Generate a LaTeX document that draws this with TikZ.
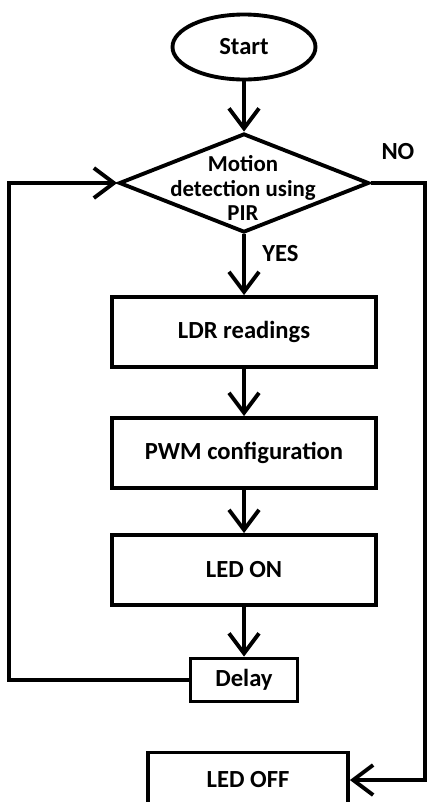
\documentclass[tikz,border=0pt]{standalone}
\usepackage{fontspec}
\setmainfont{Carlito}
\usetikzlibrary{shapes.geometric, arrows.meta}

\begin{document}
\begin{tikzpicture}[x=0.02cm, y=-0.02cm, line width=2.2pt,
    every node/.style={font=\bfseries\fontsize{14}{16}\selectfont},
    process/.style={draw, rectangle, minimum width=5.28cm, minimum height=1.4cm},
    flow/.style={-{Straight Barb[length=0.4cm, width=0.6cm]}}]

    % Page size
    \useasboundingbox (0,0) rectangle (427,802);

    % Start and the PIR decision
    \node[draw, ellipse, minimum width=2.86cm, minimum height=1.3cm] (start) at (244,47) {Start};
    \node[draw, diamond, minimum width=5cm, minimum height=1.98cm, inner sep=0pt] (pir) at (244,183) {};
    \node[align=center, font=\bfseries\fontsize{13}{14}\selectfont] (pirtext) at (243,188) {Motion\\detection using\\PIR};

    % The steps on the YES side
    \node[process] (ldr) at (244,332) {LDR readings};
    \node[process] (pwm) at (244,453) {PWM configuration};
    \node[process] (ledon) at (244,570) {LED ON};
    \node[draw, minimum width=2.14cm, minimum height=0.86cm] (delay) at (244,680) {Delay};

    % The NO side (box runs off the bottom edge)
    \node[draw, minimum width=4cm, minimum height=1.1cm] (ledoff) at (248,780) {LED OFF};

    % Corners of the two side lines
    \coordinate (loopleft) at (9,680);
    \coordinate (noright) at (425,183);

    % Arrows
    \draw[flow] (start) -- (pir);
    \draw[flow] (pir) -- (ldr) node[pos=0.32, right=6pt] {YES};
    \draw[flow] (ldr) -- (pwm);
    \draw[flow] (pwm) -- (ledon);
    \draw[flow] (ledon) -- (delay);
    \draw[flow] (delay.west) -- (loopleft) |- (pir.west);
    \draw[flow] (pir.east) -- (noright) node[midway, above=9pt] {NO} |- (ledoff.east);

\end{tikzpicture}
\end{document}
